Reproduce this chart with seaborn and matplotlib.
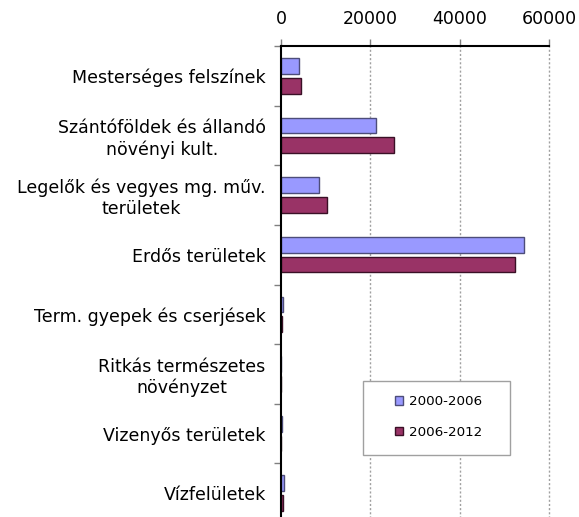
import matplotlib
matplotlib.use("Agg")
import matplotlib.pyplot as plt
import seaborn as sns
import pandas as pd
from matplotlib.patches import Rectangle, Patch
from matplotlib.ticker import FixedLocator

categories = [
    "Mesterséges felszínek",
    "Szántóföldek és állandó\nnövényi kult.",
    "Legelők és vegyes mg. műv.\nterületek",
    "Erdős területek",
    "Term. gyepek és cserjések",
    "Ritkás természetes\nnövényzet",
    "Vizenyős területek",
    "Vízfelületek",
]
series_names = ["2000-2006", "2006-2012"]
values_2000_2006 = [4000, 21300, 8400, 54400, 400, 100, 300, 650]
values_2006_2012 = [4400, 25400, 10200, 52300, 200, 60, 100, 500]
xticks = [0, 20000, 40000, 60000]

df = pd.DataFrame({
    "cat": categories * 2,
    "val": values_2000_2006 + values_2006_2012,
    "series": [series_names[0]] * len(categories) + [series_names[1]] * len(categories),
})

sns.set_style("white")
plt.rcParams["font.family"] = ["DejaVu Sans"]
plt.rcParams["text.color"] = "black"
plt.rcParams["xtick.color"] = "black"
plt.rcParams["ytick.color"] = "black"
plt.rcParams["xtick.labelcolor"] = "black"
plt.rcParams["ytick.labelcolor"] = "black"

fig = plt.figure(figsize=(5.79, 5.17), dpi=100)
ax = fig.add_axes([281 / 579, 1 - 523 / 517, 268 / 579, 477 / 517])

fills = ["#9999FF", "#993366"]
edges = ["#4D4D7A", "#3A1026"]
sns.barplot(data=df, y="cat", x="val", hue="series", orient="h",
            palette=fills, saturation=1, width=0.66, gap=0.2, ax=ax, legend=False,
            linewidth=1.0, zorder=3)
for cont, ec in zip(ax.containers, edges):
    for p in cont:
        p.set_edgecolor(ec)

ax.set_xlim(0, 60000)
ax.set_ylim(len(categories) - 0.5, -0.5)
ax.xaxis.tick_top()
ax.set_xticks(xticks)
ax.set_xticklabels([str(v) for v in xticks])
ax.set_xlabel("")
ax.set_ylabel("")
ax.tick_params(axis="x", which="major", direction="out", length=5, width=1,
               color="#808080", labelcolor="black", labelsize=12.5, pad=8,
               top=True, bottom=False)
ax.tick_params(axis="y", which="major", length=0, labelsize=12.5, pad=11,
               labelcolor="black")
ax.yaxis.set_minor_locator(FixedLocator([k + 0.5 for k in range(-1, len(categories))]))
ax.tick_params(axis="y", which="minor", direction="out", length=5, width=1,
               color="#808080", left=True)
for lab in ax.get_yticklabels():
    lab.set_multialignment("center")

for xv in xticks[1:]:
    ax.axvline(xv, color="#A0A0A0", linestyle=(0, (1.5, 1.5)), linewidth=1,
               zorder=1, clip_on=False)

for s in ["right", "bottom"]:
    ax.spines[s].set_visible(False)
for s in ["top", "left"]:
    ax.spines[s].set_color("black")
    ax.spines[s].set_linewidth(1.5)
    ax.spines[s].set_zorder(4)

# legend
handles = [Patch(facecolor=f, edgecolor=e, linewidth=1) for f, e in zip(fills, edges)]
leg = ax.legend(handles, series_names, loc="center", bbox_to_anchor=(0.588, 0.222),
                frameon=False, fontsize=9.7, handlelength=0.6, handleheight=0.6,
                handletextpad=0.4, labelspacing=1.3)
leg.set_zorder(6)
ax.add_patch(Rectangle((0.306, 0.143), 0.548, 0.155, transform=ax.transAxes,
                       facecolor="white", edgecolor="#A0A0A0", linewidth=1, zorder=5))

fig.savefig("out.png", dpi=100)
